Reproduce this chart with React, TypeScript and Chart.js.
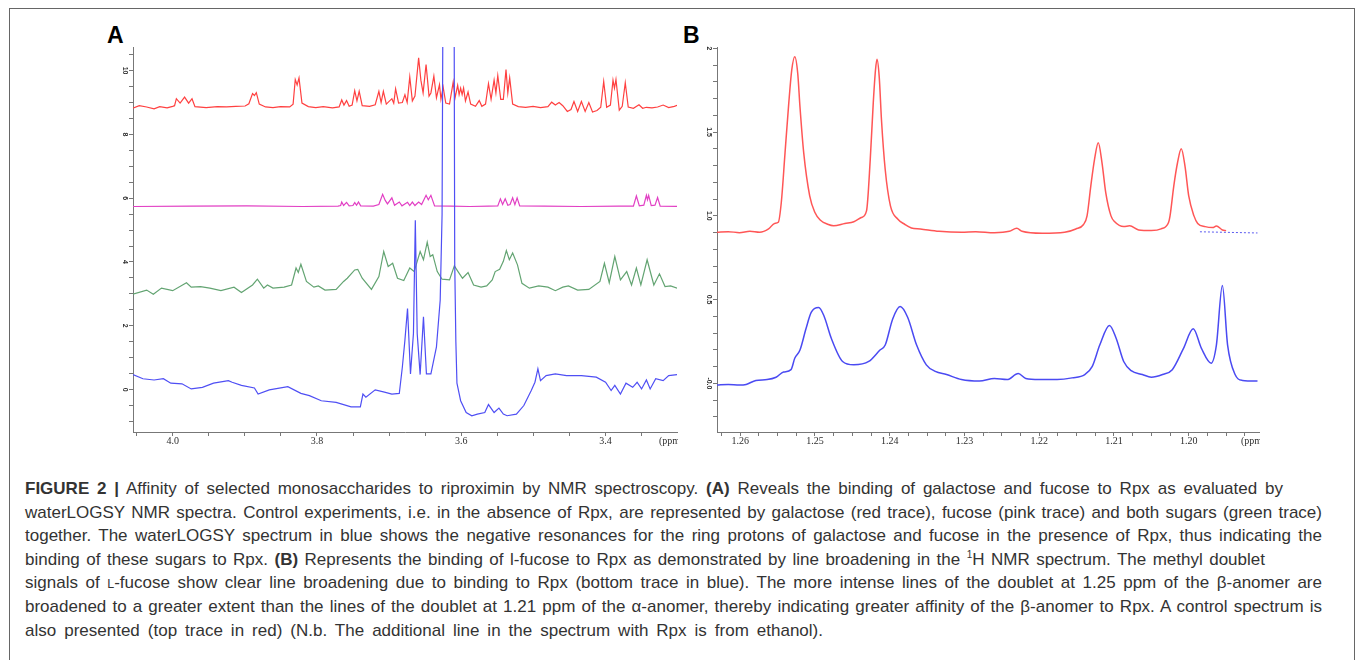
import React, { useEffect, useLayoutEffect, useRef } from "react";
import { Chart, registerables } from "chart.js";

Chart.register(...registerables);

type Pt = [number, number];

// ---------- Panel A : waterLOGSY spectra, [ppm, intensity] ----------
const A_GALACTOSE_RED: Pt[] = [
  [4.0556, 8.82], [4.0463, 8.9], [4.0361, 8.86], [4.0258, 8.8], [4.018, 8.87], [4.0077, 8.83], [4.0, 8.88],
  [3.9974, 8.9], [3.9949, 9.12], [3.9897, 8.98], [3.9835, 9.17], [3.9779, 8.98], [3.9732, 9.12], [3.9691, 8.87],
  [3.9536, 8.84], [3.9382, 8.87], [3.9253, 8.86], [3.9125, 8.88], [3.8996, 8.89],
  [3.8944, 8.96], [3.8893, 9.28], [3.8867, 9.22], [3.8841, 9.31], [3.88, 8.95], [3.8713, 8.86], [3.861, 8.84],
  [3.8507, 8.87], [3.8378, 8.86], [3.8331, 8.95], [3.8301, 9.72], [3.8275, 9.55], [3.8249, 9.77], [3.8208, 8.98],
  [3.812, 8.87], [3.8017, 8.84], [3.7914, 8.87], [3.7786, 8.83], [3.7693, 8.86], [3.7657, 9.08], [3.7626, 8.92],
  [3.759, 9.06], [3.7554, 8.88], [3.7513, 8.92], [3.7477, 9.37], [3.7446, 9.05], [3.7415, 9.35], [3.7373, 8.9],
  [3.7271, 8.88], [3.7193, 8.93], [3.7142, 9.35], [3.7111, 9.0], [3.708, 9.35], [3.7039, 8.95], [3.6962, 9.12],
  [3.6936, 8.98], [3.691, 9.43], [3.6869, 8.98], [3.6817, 9.0], [3.6781, 9.24], [3.675, 9.0], [3.6714, 9.8],
  [3.6678, 9.05], [3.6642, 9.2], [3.6591, 10.4], [3.656, 9.7], [3.6529, 9.3], [3.6488, 10.19], [3.6447, 9.2],
  [3.6421, 9.3], [3.638, 9.83], [3.6344, 9.15], [3.6302, 9.56], [3.6282, 9.1], [3.6251, 9.48], [3.6215, 8.98],
  [3.6163, 8.95], [3.6112, 9.64], [3.6086, 9.15], [3.605, 9.54], [3.603, 9.25], [3.6009, 9.45], [3.5988, 9.25],
  [3.5968, 9.45], [3.5942, 9.05], [3.5906, 9.33], [3.587, 8.95], [3.5803, 8.88], [3.5751, 9.06], [3.5715, 8.88],
  [3.5664, 8.95], [3.5623, 9.59], [3.5587, 9.1], [3.5545, 9.7], [3.552, 9.3], [3.5494, 9.84], [3.5453, 9.1],
  [3.5417, 9.1], [3.538, 10.03], [3.5355, 9.3], [3.5329, 9.77], [3.5288, 8.95], [3.521, 8.87], [3.5108, 8.85],
  [3.5005, 8.88], [3.4902, 8.84], [3.4799, 8.87], [3.4747, 9.01], [3.4696, 8.92], [3.4644, 9.0], [3.4593, 8.9],
  [3.453, 8.72], [3.4479, 8.78], [3.4438, 9.03], [3.4387, 8.72], [3.4335, 9.03], [3.4283, 8.72], [3.4232, 9.0],
  [3.4181, 8.7], [3.4119, 8.75], [3.4067, 8.85], [3.4026, 9.66], [3.3985, 8.85], [3.3933, 8.92], [3.3897, 9.7],
  [3.3877, 9.45], [3.3856, 9.72], [3.381, 8.76], [3.3769, 8.88], [3.3727, 9.62], [3.3686, 8.86], [3.3614, 8.82],
  [3.3537, 8.93], [3.3486, 8.82], [3.3434, 8.85], [3.3357, 8.83], [3.3279, 8.86], [3.3202, 8.92], [3.3125, 8.84],
  [3.3047, 8.88], [3.2996, 8.92],
];

const A_FUCOSE_PINK: Pt[] = [
  [4.0556, 5.74], [3.9743, 5.75], [3.897, 5.76], [3.8198, 5.74], [3.7708, 5.75], [3.7672, 5.77], [3.7657, 5.88],
  [3.7631, 5.77], [3.759, 5.87], [3.7554, 5.76], [3.7502, 5.77], [3.7477, 5.86], [3.7451, 5.78], [3.7425, 5.88],
  [3.7394, 5.76], [3.7219, 5.75], [3.7142, 5.8], [3.709, 6.12], [3.7054, 5.93], [3.7023, 5.82], [3.6962, 6.01],
  [3.6925, 5.78], [3.6859, 5.88], [3.6822, 5.76], [3.6745, 5.87], [3.6714, 5.77], [3.6678, 5.88], [3.6642, 5.77],
  [3.6591, 5.88], [3.655, 5.8], [3.6488, 6.09], [3.6457, 5.95], [3.6421, 6.09], [3.637, 5.76], [3.6138, 5.75],
  [3.588, 5.74], [3.5623, 5.75], [3.5494, 5.76], [3.5458, 5.98], [3.5427, 5.8], [3.5391, 5.98], [3.5355, 5.78],
  [3.5324, 5.8], [3.5288, 6.01], [3.5257, 5.8], [3.5226, 6.01], [3.519, 5.76], [3.485, 5.75], [3.4335, 5.74],
  [3.382, 5.75], [3.3614, 5.75], [3.3573, 6.07], [3.3532, 5.76], [3.347, 5.78], [3.3434, 6.09], [3.3419, 5.95],
  [3.3403, 6.09], [3.3367, 5.77], [3.3315, 5.78], [3.3279, 6.02], [3.3243, 5.75], [3.2996, 5.74],
];

const A_BOTH_GREEN: Pt[] = [
  [4.0551, 2.99], [4.0361, 3.12], [4.0268, 2.99], [4.0155, 3.18], [4.0, 3.1], [3.9809, 3.35], [3.9743, 3.21],
  [3.9614, 3.23], [3.9485, 3.18], [3.9331, 3.1], [3.915, 3.21], [3.9047, 3.04], [3.8893, 3.28], [3.8826, 3.46],
  [3.8738, 3.18], [3.8687, 3.28], [3.861, 3.18], [3.8455, 3.21], [3.8352, 3.28], [3.829, 3.81], [3.8259, 3.67],
  [3.8223, 3.93], [3.8146, 3.39], [3.8043, 3.21], [3.7981, 3.25], [3.7889, 3.12], [3.7734, 3.14], [3.7631, 3.39],
  [3.758, 3.49], [3.7477, 3.75], [3.7435, 3.77], [3.7373, 3.49], [3.7245, 3.14], [3.7142, 3.54], [3.7075, 4.33],
  [3.7013, 3.86], [3.6951, 3.96], [3.6884, 3.49], [3.6797, 3.42], [3.6714, 3.81], [3.6653, 3.7], [3.657, 4.33],
  [3.6524, 4.07], [3.6472, 4.62], [3.6431, 4.17], [3.6395, 4.23], [3.6333, 3.7], [3.6266, 3.46], [3.6163, 3.44],
  [3.6096, 3.88], [3.6045, 3.7], [3.5983, 3.49], [3.5906, 3.67], [3.5829, 3.28], [3.5726, 3.21], [3.5648, 3.25],
  [3.5571, 3.44], [3.553, 3.7], [3.5468, 3.77], [3.5417, 4.02], [3.5375, 4.36], [3.5334, 4.07], [3.5288, 4.28],
  [3.5221, 3.91], [3.5159, 3.33], [3.5056, 3.18], [3.4927, 3.25], [3.4799, 3.21], [3.4696, 3.1], [3.4593, 3.21],
  [3.4515, 3.25], [3.4387, 3.12], [3.4232, 3.14], [3.4078, 3.39], [3.4016, 3.96], [3.3949, 3.35], [3.3872, 4.17],
  [3.3794, 3.44], [3.3707, 3.7], [3.364, 3.28], [3.3573, 3.81], [3.3511, 3.28], [3.3424, 4.07], [3.3331, 3.28],
  [3.3253, 3.63], [3.3176, 3.23], [3.3099, 3.25], [3.3006, 3.18],
];

const A_WATERLOGSY_BLUE: Pt[] = [
  [4.0551, 0.47], [4.0412, 0.34], [4.0258, 0.3], [4.0129, 0.34], [4.0026, 0.2], [3.9871, 0.18], [3.9743, 0.02],
  [3.9588, 0.07], [3.9434, 0.2], [3.9228, 0.28], [3.9176, 0.23], [3.9047, 0.13], [3.8867, 0.05], [3.8816, -0.14],
  [3.8661, -0.01], [3.8404, 0.09], [3.8223, -0.12], [3.8105, -0.19], [3.794, -0.35], [3.7734, -0.4], [3.7528, -0.54],
  [3.7399, -0.54], [3.7363, -0.14], [3.7322, -0.24], [3.7193, -0.01], [3.7065, -0.08], [3.6962, -0.14],
  [3.6859, -0.12], [3.6817, 0.7], [3.6781, 1.55], [3.6745, 2.54], [3.6704, 0.49], [3.6663, 1.76], [3.6637, 5.31],
  [3.6611, 1.76], [3.657, 0.47], [3.6524, 2.28], [3.6483, 0.49], [3.6421, 0.49], [3.6344, 1.34], [3.6292, 2.81],
  [3.6266, 5.5], [3.6251, 14], [3.6101, 14], [3.6091, 4.0], [3.6075, 1.5], [3.606, 0.2], [3.6009, -0.35],
  [3.5932, -0.72], [3.5854, -0.82], [3.5777, -0.77], [3.5674, -0.72], [3.5623, -0.47], [3.5545, -0.72],
  [3.5478, -0.58], [3.5417, -0.77], [3.5365, -0.82], [3.5236, -0.77], [3.5133, -0.5], [3.503, -0.03],
  [3.4979, 0.23], [3.4938, 0.65], [3.4902, 0.28], [3.4824, 0.44], [3.4696, 0.49], [3.4541, 0.44], [3.4335, 0.44],
  [3.4129, 0.39], [3.4, 0.23], [3.3923, -0.03], [3.3872, 0.13], [3.3794, -0.14], [3.3717, 0.2], [3.3624, 0.07],
  [3.3563, 0.23], [3.3501, 0.02], [3.3434, 0.3], [3.3382, 0.02], [3.3305, 0.34], [3.3202, 0.28], [3.3125, 0.44],
  [3.3006, 0.47],
];

const A_X_TICKS = [4.05, 4.0, 3.95, 3.9, 3.85, 3.8, 3.75, 3.7, 3.65, 3.6, 3.55, 3.5, 3.45, 3.4, 3.35];
const A_X_LABELS = [4.0, 3.8, 3.6, 3.4];
const A_X_LABEL_TEXT = ["4.0", "3.8", "3.6", "3.4"];
const A_Y_TICKS = [-1, -0.5, 0, 0.5, 1, 1.5, 2, 2.5, 3, 3.5, 4, 4.5, 5, 5.5, 6, 6.5, 7, 7.5, 8, 8.5, 9, 9.5, 10, 10.5];
const A_Y_LABELS = [0, 2, 4, 6, 8, 10];
const A_Y_LABEL_TEXT = ["0", "2", "4", "6", "8", "10"];

// ---------- Panel B : methyl doublets of L-fucose, [ppm, intensity] ----------
const B_CONTROL_RED: Pt[] = [
  [1.2631, 0.902], [1.2616, 0.906], [1.2601, 0.9], [1.2587, 0.908], [1.2574, 0.902], [1.2562, 0.922],
  [1.2554, 0.955], [1.2549, 0.962], [1.2545, 1.08], [1.254, 1.376], [1.2535, 1.673], [1.2531, 1.871],
  [1.2527, 1.95], [1.2523, 1.85], [1.252, 1.65], [1.2515, 1.376], [1.2507, 1.12], [1.25, 1.02], [1.2493, 0.975],
  [1.2483, 0.95], [1.2475, 0.941], [1.246, 0.955], [1.2448, 0.965], [1.2438, 0.99], [1.2431, 1.03],
  [1.2426, 1.337], [1.2422, 1.673], [1.2419, 1.871], [1.2417, 1.935], [1.2414, 1.83], [1.2411, 1.574],
  [1.2406, 1.277], [1.2399, 1.06], [1.2389, 0.98], [1.238, 0.95], [1.2371, 0.928], [1.2359, 0.922],
  [1.2334, 0.908], [1.2304, 0.902], [1.2285, 0.906], [1.226, 0.9], [1.224, 0.908], [1.223, 0.926],
  [1.2223, 0.908], [1.2196, 0.896], [1.2166, 0.902], [1.2151, 0.922], [1.2141, 0.947], [1.2136, 1.0],
  [1.2131, 1.178], [1.2126, 1.337], [1.2121, 1.436], [1.2116, 1.317], [1.2111, 1.139], [1.2104, 1.0],
  [1.2099, 0.965], [1.2087, 0.936], [1.2079, 0.941], [1.2067, 0.916], [1.205, 0.912], [1.2037, 0.922],
  [1.2027, 0.96], [1.2025, 1.0], [1.202, 1.178], [1.2015, 1.317], [1.201, 1.4], [1.2005, 1.297], [1.2, 1.119],
  [1.1993, 1.0], [1.1988, 0.955], [1.1978, 0.936], [1.1968, 0.93], [1.1963, 0.94], [1.1955, 0.916],
  [1.195, 0.912],
];

const B_RPX_BLUE: Pt[] = [
  [1.2631, -0.01], [1.2616, -0.006], [1.2601, -0.01], [1.2592, -0.006], [1.2579, 0.018], [1.2564, 0.023],
  [1.2552, 0.037], [1.2542, 0.068], [1.2532, 0.082], [1.2527, 0.15], [1.252, 0.199], [1.2512, 0.326],
  [1.2505, 0.424], [1.2495, 0.453], [1.2488, 0.404], [1.2478, 0.268], [1.2463, 0.131], [1.2448, 0.111],
  [1.2428, 0.131], [1.2413, 0.199], [1.2406, 0.229], [1.2396, 0.385], [1.2386, 0.459], [1.2376, 0.395],
  [1.2364, 0.229], [1.2351, 0.111], [1.2339, 0.072], [1.2324, 0.053], [1.2304, 0.023], [1.228, 0.014],
  [1.226, 0.029], [1.2243, 0.023], [1.2228, 0.059], [1.2218, 0.029], [1.22, 0.023], [1.2176, 0.023],
  [1.2156, 0.033], [1.2139, 0.053], [1.2129, 0.102], [1.2119, 0.229], [1.2106, 0.346], [1.2097, 0.268],
  [1.2087, 0.131], [1.2077, 0.076], [1.2062, 0.053], [1.205, 0.037], [1.2035, 0.053], [1.2022, 0.082],
  [1.2007, 0.209], [1.1994, 0.326], [1.1983, 0.209], [1.197, 0.121], [1.1963, 0.229], [1.1955, 0.584],
  [1.1948, 0.229], [1.1938, 0.053], [1.1928, 0.018], [1.1908, 0.014],
];

const B_REFERENCE_MARK: Pt[] = [[1.1985, 0.905], [1.1908, 0.898]];

const B_X_TICKS = [
  1.1925, 1.195, 1.1975, 1.2, 1.2025, 1.205, 1.2075, 1.21, 1.2125, 1.215, 1.2175, 1.22, 1.2225, 1.225, 1.2275,
  1.23, 1.2325, 1.235, 1.2375, 1.24, 1.2425, 1.245, 1.2475, 1.25, 1.2525, 1.255, 1.2575, 1.26, 1.2625,
];
const B_X_LABELS = [1.26, 1.25, 1.24, 1.23, 1.22, 1.21, 1.2];
const B_X_LABEL_TEXT = ["1.26", "1.25", "1.24", "1.23", "1.22", "1.21", "1.20"];
const B_Y_TICKS = [
  -0.2, -0.1, 0, 0.1, 0.2, 0.3, 0.4, 0.5, 0.6, 0.7, 0.8, 0.9, 1.0, 1.1, 1.2, 1.3, 1.4, 1.5, 1.6, 1.7, 1.8, 1.9, 2.0,
];
const B_Y_LABELS = [2, 1.5, 1.0, 0.5, 0];
const B_Y_LABEL_TEXT = ["2", "1.5", "1.0", "0.5", "-0.0"];

// ---------- chart construction ----------
interface Series { points: Pt[]; color: string; width: number; dash?: number[]; smooth?: boolean }
interface PanelSpec {
  series: Series[];
  xMin: number; xMax: number; yMin: number; yMax: number;
  xTicks: number[]; yTicks: number[];
  xLabels: number[]; xLabelText: string[];
  yLabels: number[]; yLabelText: string[];
  yAxisWidth: number; xAxisHeight: number; padTop: number; padRight: number;
}

const AXIS_COLOR = "#777777";

const PANEL_A: PanelSpec = {
  series: [
    { points: A_WATERLOGSY_BLUE, color: "#4f4ff4", width: 1.2 },
    { points: A_BOTH_GREEN, color: "#63a472", width: 1.2 },
    { points: A_FUCOSE_PINK, color: "#e23fc4", width: 1.2 },
    { points: A_GALACTOSE_RED, color: "#ff4040", width: 1.2 },
  ],
  xMin: 3.301, xMax: 4.055, yMin: -1.33, yMax: 10.74,
  xTicks: A_X_TICKS, yTicks: A_Y_TICKS,
  xLabels: A_X_LABELS, xLabelText: A_X_LABEL_TEXT,
  yLabels: A_Y_LABELS, yLabelText: A_Y_LABEL_TEXT,
  yAxisWidth: 33, xAxisHeight: 28, padTop: 7, padRight: 23,
};

const PANEL_B: PanelSpec = {
  series: [
    { points: B_REFERENCE_MARK, color: "#5a5af0", width: 1, dash: [2, 2] },
    { points: B_RPX_BLUE, color: "#4a4af2", width: 1.5, smooth: true },
    { points: B_CONTROL_RED, color: "#ff5656", width: 1.5, smooth: true },
  ],
  xMin: 1.1906, xMax: 1.2631, yMin: -0.29, yMax: 2.008,
  xTicks: B_X_TICKS, yTicks: B_Y_TICKS,
  xLabels: B_X_LABELS, xLabelText: B_X_LABEL_TEXT,
  yLabels: B_Y_LABELS, yLabelText: B_Y_LABEL_TEXT,
  yAxisWidth: 27, xAxisHeight: 28, padTop: 7, padRight: 21,
};

function labelPlugin(p: PanelSpec) {
  return {
    id: "nmrAxisLabels",
    afterDraw(chart: any) {
      const ctx: CanvasRenderingContext2D = chart.ctx;
      const xs = chart.scales.x;
      const ys = chart.scales.y;
      const area = chart.chartArea;
      ctx.save();
      ctx.fillStyle = "#2e2e2e";
      ctx.font = '10px "Liberation Serif", "DejaVu Serif", serif';
      ctx.textAlign = "center";
      ctx.textBaseline = "middle";
      p.xLabels.forEach((v, i) => {
        ctx.fillText(p.xLabelText[i], xs.getPixelForValue(v), area.bottom + 9);
      });
      ctx.save();
      ctx.beginPath();
      ctx.rect(area.right - 40, area.bottom + 1, 41, 20);
      ctx.clip();
      ctx.textAlign = "left";
      ctx.fillText("(ppm", area.right - 18, area.bottom + 9);
      ctx.restore();
      ctx.font = 'bold 7px "Liberation Sans", Arial, sans-serif';
      ctx.textAlign = "center";
      ctx.textBaseline = "middle";
      p.yLabels.forEach((v, i) => {
        ctx.save();
        ctx.translate(area.left - 8, ys.getPixelForValue(v));
        ctx.rotate(Math.PI / 2);
        ctx.fillText(p.yLabelText[i], 0, 0);
        ctx.restore();
      });
      ctx.restore();
    },
  };
}

function SpectrumPanel({ spec, left, top, width, height }: { spec: PanelSpec; left: number; top: number; width: number; height: number }) {
  const ref = useRef<HTMLCanvasElement>(null);
  useEffect(() => {
    const canvas = ref.current;
    if (!canvas) return;
    const axisCommon = {
      type: "linear" as const,
      grid: { display: true, drawOnChartArea: false, drawTicks: true, tickLength: 4, color: AXIS_COLOR, lineWidth: 1 },
      border: { display: true, color: AXIS_COLOR, width: 1 },
      ticks: { display: false },
    };
    const chart = new Chart(canvas, {
      type: "line",
      data: {
        datasets: spec.series.map((s) => ({
          data: s.points.map(([x, y]) => ({ x, y })),
          borderColor: s.color,
          borderWidth: s.width,
          borderDash: s.dash || [],
          pointRadius: 0,
          tension: 0,
          cubicInterpolationMode: s.smooth ? "monotone" : "default",
          fill: false,
        })),
      },
      options: {
        animation: false,
        responsive: false,
        maintainAspectRatio: false,
        events: [],
        layout: { padding: { left: 0, top: spec.padTop, right: spec.padRight, bottom: 0 } },
        plugins: { legend: { display: false }, tooltip: { enabled: false }, title: { display: false } },
        scales: {
          x: {
            ...axisCommon,
            reverse: true,
            min: spec.xMin,
            max: spec.xMax,
            afterBuildTicks: (s: any) => { s.ticks = spec.xTicks.map((v) => ({ value: v })); },
            afterFit: (s: any) => { s.height = spec.xAxisHeight; },
          },
          y: {
            ...axisCommon,
            min: spec.yMin,
            max: spec.yMax,
            afterBuildTicks: (s: any) => { s.ticks = spec.yTicks.map((v) => ({ value: v })); },
            afterFit: (s: any) => { s.width = spec.yAxisWidth; },
          },
        },
      } as any,
      plugins: [labelPlugin(spec)],
    });
    return () => chart.destroy();
  }, [spec]);
  return (
    <canvas
      ref={ref}
      width={width}
      height={height}
      style={{ position: "absolute", left, top, width, height, display: "block" }}
    />
  );
}

// ---------- caption ----------
const LINE_H = 23.6;

function CaptionLine({ target, children }: { target: number; children: React.ReactNode }) {
  const ref = useRef<HTMLDivElement>(null);
  useLayoutEffect(() => {
    const el = ref.current;
    if (!el) return;
    el.style.transform = "";
    el.style.whiteSpace = "nowrap";
    el.style.width = "max-content";
    el.style.textAlign = "left";
    el.style.textAlignLast = "left";
    const natural = el.getBoundingClientRect().width;
    if (natural > target) {
      el.style.width = natural + "px";
      el.style.transform = `scaleX(${target / natural})`;
    } else {
      el.style.whiteSpace = "normal";
      el.style.width = target + "px";
      el.style.textAlign = "justify";
      el.style.textAlignLast = "justify";
    }
  }, [target]);
  return (
    <div
      ref={ref}
      style={{ height: LINE_H, lineHeight: LINE_H + "px", whiteSpace: "nowrap", transformOrigin: "left center", overflow: "visible" }}
    >
      {children}
    </div>
  );
}

export default function App() {
  return (
    <div
      style={{
        position: "absolute", left: 0, top: 0, width: 1355, height: 660, overflow: "hidden",
        background: "#ffffff", fontFamily: '"Liberation Sans", Arial, sans-serif',
      }}
    >
      <div
        style={{
          position: "absolute", left: 9, top: 8, width: 1346, height: 700,
          border: "1px solid #666", boxSizing: "border-box",
        }}
      />
      <div style={{ position: "absolute", left: 107, top: 24, fontSize: 23, fontWeight: 700, lineHeight: "23px", color: "#000" }}>A</div>
      <div style={{ position: "absolute", left: 683, top: 24, fontSize: 23, fontWeight: 700, lineHeight: "23px", color: "#000" }}>B</div>

      <SpectrumPanel spec={PANEL_A} left={100} top={40} width={600} height={420} />
      <SpectrumPanel spec={PANEL_B} left={690} top={40} width={590} height={420} />

      <div style={{ position: "absolute", left: 25, top: 477, fontSize: 17, color: "#333" }}>
        <CaptionLine target={1258}>
          <b>FIGURE 2 |</b> Affinity of selected monosaccharides to riproximin by NMR spectroscopy. <b>(A)</b> Reveals the binding of galactose and fucose to Rpx as evaluated by
        </CaptionLine>
        <CaptionLine target={1297}>
          waterLOGSY NMR spectra. Control experiments, i.e. in the absence of Rpx, are represented by galactose (red trace), fucose (pink trace) and both sugars (green trace)
        </CaptionLine>
        <CaptionLine target={1297}>
          together. The waterLOGSY spectrum in blue shows the negative resonances for the ring protons of galactose and fucose in the presence of Rpx, thus indicating the
        </CaptionLine>
        <CaptionLine target={1240}>
          binding of these sugars to Rpx. <b>(B)</b> Represents the binding of l-fucose to Rpx as demonstrated by line broadening in the <sup style={{ fontSize: 10, lineHeight: 0 }}>1</sup>H NMR spectrum. The methyl doublet
        </CaptionLine>
        <CaptionLine target={1297}>
          signals of <span style={{ fontSize: 12.5 }}>L</span>-fucose show clear line broadening due to binding to Rpx (bottom trace in blue). The more intense lines of the doublet at 1.25 ppm of the β-anomer are
        </CaptionLine>
        <CaptionLine target={1297}>
          broadened to a greater extent than the lines of the doublet at 1.21 ppm of the α-anomer, thereby indicating greater affinity of the β-anomer to Rpx. A control spectrum is
        </CaptionLine>
        <CaptionLine target={798}>
          also presented (top trace in red) (N.b. The additional line in the spectrum with Rpx is from ethanol).
        </CaptionLine>
      </div>
    </div>
  );
}
